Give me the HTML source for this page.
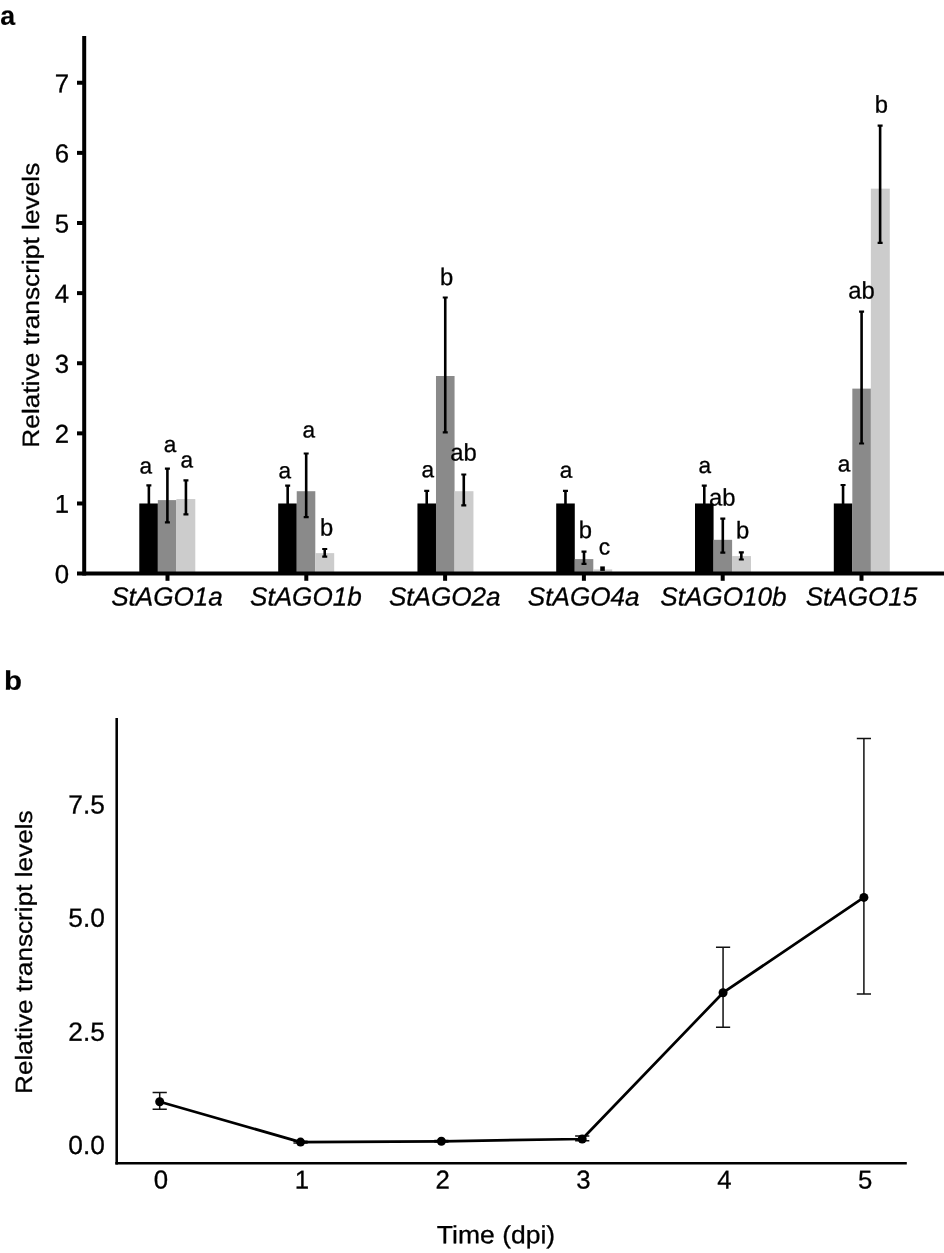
<!DOCTYPE html>
<html><head><meta charset="utf-8"><title>Figure</title>
<style>
html,body{margin:0;padding:0;background:#fff;}
svg{display:block;font-family:"Liberation Sans",sans-serif;will-change:transform;filter:grayscale(1);}
text{fill:#000;stroke:#000;stroke-width:0.3px;stroke-linejoin:round;text-rendering:geometricPrecision;}
.t{font-size:25.75px;}
.ti{font-size:26.1px;font-style:italic;}
.b{font-size:27.5px;font-weight:bold;stroke-width:0.2px;}
.y{font-size:26.5px;}
.tb{font-size:26.3px;}
</style></head>
<body>
<svg width="944" height="1253" viewBox="0 0 944 1253">
<rect x="0" y="0" width="944" height="1253" fill="#ffffff"/>
<!-- panel a -->
<text class="b" style="font-size:26.7px" transform="translate(0.35 24.75) rotate(0.03)">a</text>
<rect x="139.30" y="503.48" width="18.58" height="70.12" fill="#000000"/>
<rect x="157.83" y="500.11" width="18.58" height="73.49" fill="#8a8a8a"/>
<rect x="176.36" y="499.06" width="18.93" height="74.54" fill="#cccccc"/>
<rect x="278.20" y="503.48" width="18.58" height="70.12" fill="#000000"/>
<rect x="296.73" y="491.21" width="18.58" height="82.39" fill="#8a8a8a"/>
<rect x="315.26" y="553.12" width="18.93" height="20.48" fill="#cccccc"/>
<rect x="417.45" y="503.48" width="18.58" height="70.12" fill="#000000"/>
<rect x="435.98" y="376.00" width="18.58" height="197.60" fill="#8a8a8a"/>
<rect x="454.51" y="491.21" width="18.93" height="82.39" fill="#cccccc"/>
<rect x="556.20" y="503.48" width="18.58" height="70.12" fill="#000000"/>
<rect x="574.73" y="559.09" width="18.58" height="14.51" fill="#8a8a8a"/>
<rect x="593.26" y="569.39" width="18.93" height="4.21" fill="#cccccc"/>
<rect x="695.00" y="503.48" width="18.58" height="70.12" fill="#000000"/>
<rect x="713.53" y="539.80" width="18.58" height="33.80" fill="#8a8a8a"/>
<rect x="732.06" y="556.07" width="18.93" height="17.53" fill="#cccccc"/>
<rect x="833.80" y="503.48" width="18.58" height="70.12" fill="#000000"/>
<rect x="852.33" y="388.62" width="18.58" height="184.98" fill="#8a8a8a"/>
<rect x="870.86" y="188.64" width="18.93" height="384.96" fill="#cccccc"/>
<g stroke="#000" stroke-width="2.6" fill="none">
<path d="M148.87 485.20V521.40"/><path stroke-width="2.2" d="M146.37 485.30h5M146.37 521.30h5"/>
<path d="M167.40 468.50V522.40"/><path stroke-width="2.2" d="M164.90 468.60h5M164.90 522.30h5"/>
<path d="M185.93 480.30V514.40"/><path stroke-width="2.2" d="M183.43 480.40h5M183.43 514.30h5"/>
<path d="M287.67 485.50V521.00"/><path stroke-width="2.2" d="M285.17 485.60h5M285.17 520.90h5"/>
<path d="M306.19 453.40V517.20"/><path stroke-width="2.2" d="M303.69 453.50h5M303.69 517.10h5"/>
<path d="M324.73 548.90V556.80"/><path stroke-width="2.2" d="M322.23 549.00h5M322.23 556.70h5"/>
<path d="M426.72 490.70V516.00"/><path stroke-width="2.2" d="M424.22 490.80h5M424.22 515.90h5"/>
<path d="M445.25 297.40V432.40"/><path stroke-width="2.2" d="M442.75 297.50h5M442.75 432.30h5"/>
<path d="M463.78 474.40V505.40"/><path stroke-width="2.2" d="M461.28 474.50h5M461.28 505.30h5"/>
<path d="M565.47 490.70V516.00"/><path stroke-width="2.2" d="M562.97 490.80h5M562.97 515.90h5"/>
<path d="M584.00 551.50V564.00"/><path stroke-width="2.2" d="M581.50 551.60h5M581.50 563.90h5"/>
<path stroke="none" fill="#000" d="M600.23 566.40h4.6V570.90h-4.6z"/>
<path d="M704.27 485.50V521.00"/><path stroke-width="2.2" d="M701.77 485.60h5M701.77 520.90h5"/>
<path d="M722.80 518.60V552.70"/><path stroke-width="2.2" d="M720.30 518.70h5M720.30 552.60h5"/>
<path d="M741.33 552.20V559.60"/><path stroke-width="2.2" d="M738.83 552.30h5M738.83 559.50h5"/>
<path d="M843.06 484.90V522.00"/><path stroke-width="2.2" d="M840.56 485.00h5M840.56 521.90h5"/>
<path d="M861.59 311.50V443.60"/><path stroke-width="2.2" d="M859.09 311.60h5M859.09 443.50h5"/>
<path d="M880.12 125.50V243.00"/><path stroke-width="2.2" d="M877.62 125.60h5M877.62 242.90h5"/>
</g>
<g stroke="#000" stroke-width="4" fill="none">
<path d="M84.2 36V575.6"/>
<path d="M77 573.6H944"/>
<path d="M77 503.48H83"/><path d="M77 433.36H83"/><path d="M77 363.24H83"/><path d="M77 293.12H83"/><path d="M77 223.00H83"/><path d="M77 152.88H83"/><path d="M77 82.76H83"/>
<path d="M167.50 575V580.8"/><path d="M306.30 575V580.8"/><path d="M445.10 575V580.8"/><path d="M583.90 575V580.8"/><path d="M722.70 575V580.8"/><path d="M861.50 575V580.8"/>
</g>
<text class="t" text-anchor="end" transform="translate(69.20 583.00) rotate(0.03)">0</text>
<text class="t" text-anchor="end" transform="translate(69.20 512.88) rotate(0.03)">1</text>
<text class="t" text-anchor="end" transform="translate(69.20 442.76) rotate(0.03)">2</text>
<text class="t" text-anchor="end" transform="translate(69.20 372.64) rotate(0.03)">3</text>
<text class="t" text-anchor="end" transform="translate(69.20 302.52) rotate(0.03)">4</text>
<text class="t" text-anchor="end" transform="translate(69.20 232.40) rotate(0.03)">5</text>
<text class="t" text-anchor="end" transform="translate(69.20 162.28) rotate(0.03)">6</text>
<text class="t" text-anchor="end" transform="translate(69.20 92.16) rotate(0.03)">7</text>
<text class="ti" text-anchor="middle" transform="translate(167.00 605.60) rotate(0.03)">StAGO1a</text>
<text class="ti" text-anchor="middle" transform="translate(305.90 605.60) rotate(0.03)">StAGO1b</text>
<text class="ti" text-anchor="middle" transform="translate(444.80 605.60) rotate(0.03)">StAGO2a</text>
<text class="ti" text-anchor="middle" transform="translate(583.70 605.60) rotate(0.03)">StAGO4a</text>
<text class="ti" text-anchor="middle" transform="translate(723.40 605.60) rotate(0.03)">StAGO10b</text>
<text class="ti" text-anchor="middle" transform="translate(861.50 605.60) rotate(0.03)">StAGO15</text>
<text class="y" style="font-size:26.3px" text-anchor="middle" transform="translate(39.2 305.15) rotate(-90) scale(1 0.9)">Relative transcript levels</text>
<text class="l" text-anchor="middle" style="font-size:22.6px" transform="translate(145.80 473.40) rotate(0.03)">a</text>
<text class="l" text-anchor="middle" style="font-size:22.6px" transform="translate(170.00 451.90) rotate(0.03)">a</text>
<text class="l" text-anchor="middle" style="font-size:22.6px" transform="translate(186.70 467.50) rotate(0.03)">a</text>
<text class="l" text-anchor="middle" style="font-size:22.6px" transform="translate(284.90 478.20) rotate(0.03)">a</text>
<text class="l" text-anchor="middle" style="font-size:22.6px" transform="translate(308.90 437.40) rotate(0.03)">a</text>
<text class="l" text-anchor="middle" style="font-size:23.8px" transform="translate(326.70 535.60) rotate(0.03)">b</text>
<text class="l" text-anchor="middle" style="font-size:22.6px" transform="translate(427.80 477.30) rotate(0.03)">a</text>
<text class="l" text-anchor="middle" style="font-size:23.8px" transform="translate(446.50 284.90) rotate(0.03)">b</text>
<text class="l" text-anchor="middle" style="font-size:23.8px" transform="translate(463.60 460.40) rotate(0.03)">ab</text>
<text class="l" text-anchor="middle" style="font-size:22.6px" transform="translate(566.00 477.80) rotate(0.03)">a</text>
<text class="l" text-anchor="middle" style="font-size:23.8px" transform="translate(585.40 537.90) rotate(0.03)">b</text>
<text class="l" text-anchor="middle" style="font-size:22.8px" transform="translate(604.50 554.60) rotate(0.03)">c</text>
<text class="l" text-anchor="middle" style="font-size:22.6px" transform="translate(704.80 472.90) rotate(0.03)">a</text>
<text class="l" text-anchor="middle" style="font-size:23.8px" transform="translate(722.30 505.50) rotate(0.03)">ab</text>
<text class="l" text-anchor="middle" style="font-size:23.8px" transform="translate(742.50 538.30) rotate(0.03)">b</text>
<text class="l" text-anchor="middle" style="font-size:22.6px" transform="translate(844.00 471.50) rotate(0.03)">a</text>
<text class="l" text-anchor="middle" style="font-size:23.8px" transform="translate(861.40 298.60) rotate(0.03)">ab</text>
<text class="l" text-anchor="middle" style="font-size:23.8px" transform="translate(881.40 112.60) rotate(0.03)">b</text>
<!-- panel b -->
<text class="b" transform="translate(4.10 689.70) rotate(0.03) scale(1.07 0.98)">b</text>
<g stroke="#111" stroke-width="1.5" fill="none">
<path d="M152.60 1092.50h14.2M152.60 1109.20h14.2M159.70 1092.50V1109.20"/>
<path d="M293.44 1141.30h14.2M293.44 1142.90h14.2M300.54 1141.30V1142.90"/>
<path d="M434.28 1140.60h14.2M434.28 1142.00h14.2M441.38 1140.60V1142.00"/>
<path d="M575.12 1136.00h14.2M575.12 1140.80h14.2M582.22 1136.00V1140.80"/>
<path d="M715.96 947.20h14.2M715.96 1027.20h14.2M723.06 947.20V1027.20"/>
<path d="M856.80 738.50h14.2M856.80 994.00h14.2M863.90 738.50V994.00"/>
</g>
<polyline fill="none" stroke="#000" stroke-width="2.7" stroke-linejoin="round" points="159.70,1101.70 300.54,1142.10 441.38,1141.30 582.22,1139.00 723.06,992.70 863.90,897.40"/>
<circle cx="159.70" cy="1101.70" r="4.5" fill="#000"/><circle cx="300.54" cy="1142.10" r="4.5" fill="#000"/><circle cx="441.38" cy="1141.30" r="4.5" fill="#000"/><circle cx="582.22" cy="1139.00" r="4.5" fill="#000"/><circle cx="723.06" cy="992.70" r="4.5" fill="#000"/><circle cx="863.90" cy="897.40" r="4.5" fill="#000"/>
<g stroke="#000" stroke-width="2.55" fill="none">
<path d="M116.7 718V1164.6"/>
<path d="M115.35 1163.3H906.8"/>
</g>
<text class="tb" text-anchor="end" transform="translate(104.90 1154.00) rotate(0.03)">0.0</text>
<text class="tb" text-anchor="end" transform="translate(104.90 1040.72) rotate(0.03)">2.5</text>
<text class="tb" text-anchor="end" transform="translate(104.90 926.75) rotate(0.03)">5.0</text>
<text class="tb" text-anchor="end" transform="translate(104.90 813.57) rotate(0.03)">7.5</text>
<text class="t" text-anchor="middle" transform="translate(161.00 1188.50) rotate(0.03)">0</text>
<text class="t" text-anchor="middle" transform="translate(301.84 1188.50) rotate(0.03)">1</text>
<text class="t" text-anchor="middle" transform="translate(442.68 1188.50) rotate(0.03)">2</text>
<text class="t" text-anchor="middle" transform="translate(583.52 1188.50) rotate(0.03)">3</text>
<text class="t" text-anchor="middle" transform="translate(724.36 1188.50) rotate(0.03)">4</text>
<text class="t" text-anchor="middle" transform="translate(865.20 1188.50) rotate(0.03)">5</text>
<text class="y" text-anchor="middle" transform="translate(496.00 1243.20) rotate(0.03) scale(1 0.94)">Time (dpi)</text>
<text class="y" style="font-size:26.17px" text-anchor="middle" transform="translate(31.55 952.15) rotate(-90) scale(1 0.9)">Relative transcript levels</text>
</svg>
</body></html>
